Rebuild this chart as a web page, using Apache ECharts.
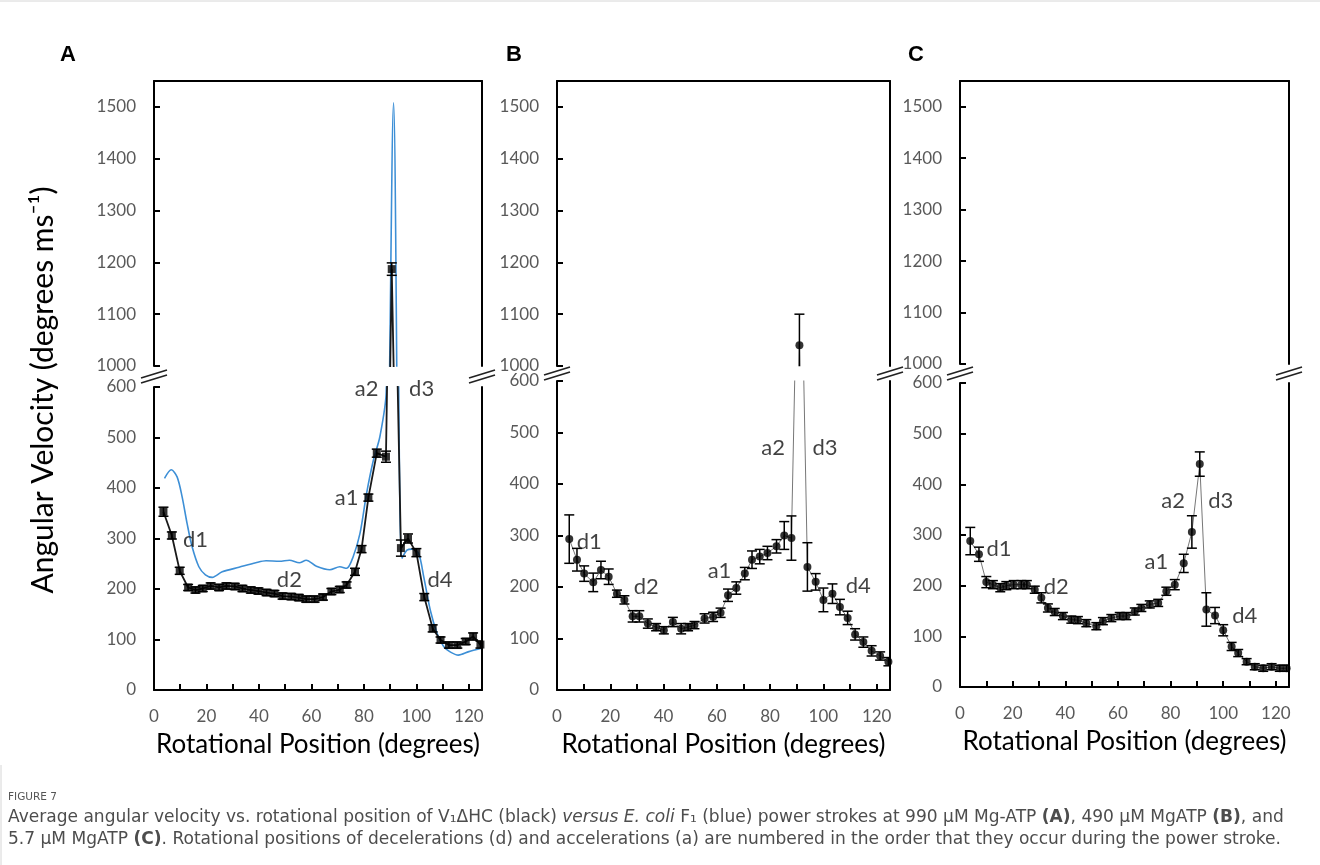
<!DOCTYPE html>
<html>
<head>
<meta charset="utf-8">
<title>Figure 7</title>
<script src="https://cdn.jsdelivr.net/npm/echarts@6/dist/echarts.min.js"></script>
<style>
  html, body { margin: 0; padding: 0; background: #fff; }
  #main { width: 1320px; height: 865px; }
</style>
</head>
<body>
<div id="main"></div>
<script>
// ---- data ----
// panel A : V1dHC, 990 uM Mg-ATP (black) + E. coli F1 (blue)
var posA = [3.6, 6.8, 9.8, 13.0, 15.8, 18.6, 21.6, 24.8, 27.6, 30.8, 33.7, 36.9, 39.8, 42.9, 45.9, 49.0, 52.3, 55.2, 58.0, 61.2,
            64.4, 67.6, 70.8, 73.4, 76.6, 79.1, 81.7, 84.9, 88.4, 90.6, 94.1, 96.8, 100.0, 103.0, 106.2, 109.2, 112.4, 115.6, 118.8, 121.6, 124.4];
var velA = [353, 306, 236, 203, 198, 201, 206, 203, 206, 205, 201, 198, 196, 193, 191, 186, 185, 183, 180, 180,
            184, 195, 199, 208, 234, 279, 381, 469, 462, 1187, 281, 300, 272, 184, 122, 99, 89, 89, 96, 106, 90];
var errA = [9, 7, 7, 6, 6, 6, 6, 6, 6, 6, 6, 6, 6, 6, 6, 6, 6, 6, 6, 6,
            6, 6, 6, 6, 7, 7, 7, 8, 11, 12, 16, 9, 8, 7, 7, 6, 6, 6, 6, 7, 7];
var bluePosA = [4.0, 6.6, 8.8, 10.7, 12.6, 14.5, 17.1, 19.6, 22.2, 26.0, 32.4, 38.8, 42.7, 47.8, 51.6, 55.4, 58.0, 61.9, 67.0, 70.8,
                73.4, 75.9, 78.5, 81.0, 83.6, 86.1, 88.5, 91.3, 93.2, 94.5, 96.4, 98.3, 100.8, 102.8, 105.3, 107.9, 110.4, 113.0, 116.0, 120.0, 124.5];
var blueVelA = [419, 436, 422, 383, 330, 284, 244, 228, 223, 234, 243, 252, 256, 255, 257, 252, 257, 245, 238, 244,
                241, 264, 310, 389, 455, 502, 590, 1508, 620, 261, 277, 279, 271, 224, 158, 112, 86, 75, 69, 76, 82];

// panel B : 490 uM MgATP
var posB = [4.6, 7.5, 10.2, 13.6, 16.5, 19.4, 22.5, 25.3, 28.4, 30.9, 34.1, 37.2, 40.1, 43.5, 46.6, 49.2, 51.6, 55.4, 58.6, 61.4,
            64.2, 67.3, 70.5, 73.2, 76.1, 79.0, 82.4, 85.3, 88.0, 91.0, 94.0, 97.1, 100.0, 103.4, 106.2, 109.1, 111.9, 115.0, 118.1, 121.3, 124.4];
var velB = [293, 253, 226, 209, 233, 220, 187, 175, 143, 143, 129, 122, 116, 132, 119, 122, 126, 139, 142, 150,
            184, 198, 226, 253, 259, 266, 279, 300, 295, 1040, 239, 210, 175, 187, 161, 140, 108, 93, 76, 66, 55];
var errB = [47, 22, 15, 18, 17, 15, 7, 8, 11, 11, 9, 7, 7, 9, 10, 7, 7, 9, 9, 9,
            12, 12, 12, 17, 14, 13, 13, 27, 43, 60, 47, 16, 23, 19, 15, 13, 11, 10, 10, 8, 8];

// panel C : 5.7 uM MgATP
var posC = [3.9, 7.2, 10.0, 12.5, 15.3, 17.6, 20.4, 23.3, 25.4, 28.4, 30.9, 33.4, 36.0, 39.1, 42.3, 44.8, 48.0, 51.8, 54.3, 57.5,
            60.7, 63.2, 66.4, 68.9, 72.1, 75.3, 78.4, 81.6, 85.0, 88.1, 91.1, 93.6, 96.9, 100.0, 103.2, 105.7, 108.9, 112.0, 115.2, 118.4, 121.5, 124.1];
var velC = [288, 262, 207, 202, 196, 200, 202, 202, 202, 192, 176, 156, 148, 140, 133, 132, 126, 120, 130, 136,
            140, 140, 149, 156, 163, 166, 189, 202, 244, 306, 440, 153, 141, 112, 80, 67, 50, 40, 37, 40, 37, 37];
var errC = [27, 14, 11, 8, 8, 8, 8, 8, 8, 7, 10, 8, 7, 7, 7, 7, 7, 7, 7, 7,
            7, 7, 7, 7, 7, 7, 8, 10, 18, 32, 24, 33, 16, 11, 8, 7, 6, 6, 6, 6, 6, 6];

// labels of decelerations / accelerations [position, velocity, text]
var annA = [[15.8, 297, 'd1'], [51.6, 218, 'd2'], [73.4, 380, 'a1'], [81.0, 596, 'a2'], [102.0, 596, 'd3'], [109.0, 218, 'd4']];
var annB = [[12.1, 287, 'd1'], [33.5, 200, 'd2'], [61.0, 231, 'a1'], [81.1, 471, 'a2'], [100.6, 471, 'd3'], [113.1, 203, 'd4']];
var annC = [[14.8, 273, 'd1'], [36.6, 197, 'd2'], [74.6, 247, 'a1'], [81.0, 368, 'a2'], [99.1, 368, 'd3'], [108.2, 141, 'd4']];

var xLabels = [0, 20, 40, 60, 80, 100, 120];
var xTicks = [0, 10, 20, 30, 40, 50, 60, 70, 80, 90, 100, 110, 120];
var lowTicks = [0, 100, 200, 300, 400, 500, 600];
var upTicks = [1000, 1100, 1200, 1300, 1400, 1500];

var panelLetters = ['A', 'B', 'C'];
var xTitle = 'Rotational Position (degrees)';
var yTitle = 'Angular Velocity (degrees ms\u207B\u00B9)';
var captionHead = 'FIGURE 7';
var caption1 = [['n', 'Average angular velocity vs. rotational position of V\u2081\u0394HC (black) '], ['i', 'versus E. coli'],
                ['n', ' F\u2081 (blue) power strokes at 990 \u00B5M Mg-ATP '], ['b', '(A)'], ['n', ', 490 \u00B5M MgATP '], ['b', '(B)'], ['n', ', and']];
var caption2 = [['n', '5.7 \u00B5M MgATP '], ['b', '(C)'],
                ['n', '. Rotational positions of decelerations (d) and accelerations (a) are numbered in the order that they occur during the power stroke.']];

// ---- layout ----
var panels = [
  { pos: posA, vel: velA, err: errA, ann: annA, blue: [bluePosA, blueVelA], sym: 'rect', lineColor: '#1a1a1a', lineWidth: 1.8,
    left: 154, width: 328, upTop: 81, upBottom: 366, lowTop: 387, lowBottom: 690, letterX: 68 },
  { pos: posB, vel: velB, err: errB, ann: annB, blue: null, sym: 'circle', lineColor: '#777', lineWidth: 1,
    left: 557, width: 333, upTop: 81, upBottom: 366, lowTop: 381, lowBottom: 690, letterX: 514 },
  { pos: posC, vel: velC, err: errC, ann: annC, blue: null, sym: 'circle', lineColor: '#777', lineWidth: 1,
    left: 960, width: 329, upTop: 81, upBottom: 364, lowTop: 383, lowBottom: 687, letterX: 916 }
];

var FONT = 'Lato';
var CAP_FONT = 'DejaVu Sans';
var chart = echarts.init(document.getElementById('main'), null, { renderer: 'canvas' });

function zip(a, b, c) {
  return a.map(function (v, i) { return c ? [v, b[i], c[i]] : [v, b[i]]; });
}

// font size that makes a caption line span the wanted width
function fitSize(parts, family, target) {
  var ctx = document.createElement('canvas').getContext('2d');
  ctx.font = '20px "' + family + '"';
  var w = ctx.measureText(parts.map(function (p) { return p[1]; }).join('')).width;
  return 20 * target / w;
}

function richText(parts) {
  return parts.map(function (p) { return '{' + p[0] + '|' + p[1] + '}'; }).join('');
}

function errRender(params, api) {
  var x = api.value(0), y = api.value(1), e = api.value(2);
  var t = api.coord([x, y + e]), b = api.coord([x, y - e]);
  var w = 5, st = { stroke: '#000', lineWidth: 1.5 };
  return {
    type: 'group',
    children: [
      { type: 'line', shape: { x1: t[0], y1: t[1], x2: b[0], y2: b[1] }, style: st },
      { type: 'line', shape: { x1: t[0] - w, y1: t[1], x2: t[0] + w, y2: t[1] }, style: st },
      { type: 'line', shape: { x1: b[0] - w, y1: b[1], x2: b[0] + w, y2: b[1] }, style: st }
    ]
  };
}

var grids = [], xAxes = [], yAxes = [], series = [], graphics = [];
var axLine = { show: true, lineStyle: { color: '#000', width: 2 } };
var tickLbl = { color: '#595959', fontSize: 17, fontFamily: FONT, margin: 18, formatter: function (v) { return String(v); } };

panels.forEach(function (p, pi) {
  [0, 1].forEach(function (u) {
    var g = pi * 2 + u;
    var lower = u === 1;
    grids.push({
      left: p.left, width: p.width,
      top: lower ? p.lowTop : p.upTop,
      height: lower ? p.lowBottom - p.lowTop : p.upBottom - p.upTop,
      outerBoundsMode: 'none'
    });
    xAxes.push({
      type: 'value', gridIndex: g, min: 0, max: 125, interval: 10,
      position: lower ? 'bottom' : 'top',
      axisLine: axLine,
      axisTick: lower ? { show: true, inside: true, length: 6, customValues: xTicks, lineStyle: { color: '#000', width: 2 } } : { show: false },
      axisLabel: lower ? Object.assign({ customValues: xLabels }, tickLbl) : { show: false },
      splitLine: { show: false },
      name: lower ? xTitle : '',
      nameLocation: 'middle', nameGap: 42,
      nameTextStyle: { fontSize: 26, color: '#000', fontFamily: FONT }
    });
    var yMin = lower ? 0 : 1000, yMax = lower ? 600 : 1550;
    yAxes.push({
      type: 'value', gridIndex: g, min: yMin, max: yMax, interval: 100, position: 'left',
      axisLine: axLine,
      axisTick: { show: true, inside: true, length: 6, customValues: lower ? lowTicks : upTicks, lineStyle: { color: '#000', width: 2 } },
      axisLabel: Object.assign({ customValues: lower ? lowTicks : upTicks }, tickLbl),
      splitLine: { show: false }
    });
    yAxes.push({
      type: 'value', gridIndex: g, min: yMin, max: yMax, interval: 100, position: 'right',
      axisLine: axLine, axisTick: { show: false }, axisLabel: { show: false }, splitLine: { show: false }
    });
    var yi = g * 2;
    if (p.blue) {
      series.push({
        type: 'line', xAxisIndex: g, yAxisIndex: yi, data: zip(p.blue[0], p.blue[1]),
        symbol: 'none', smooth: 0.3, clip: true, z: 2,
        lineStyle: { color: '#3d8fd6', width: 1.6 }
      });
    }
    series.push({
      type: 'line', xAxisIndex: g, yAxisIndex: yi, data: zip(p.pos, p.vel),
      symbol: 'none', clip: true, z: 3,
      lineStyle: { color: p.lineColor, width: p.lineWidth }
    });
    series.push({
      type: 'custom', xAxisIndex: g, yAxisIndex: yi, data: zip(p.pos, p.vel, p.err),
      renderItem: errRender, encode: { x: 0, y: 1 }, clip: true, z: 4
    });
    series.push({
      type: 'scatter', xAxisIndex: g, yAxisIndex: yi, data: zip(p.pos, p.vel),
      symbol: p.sym, symbolSize: 8, clip: true, z: 5,
      itemStyle: { color: '#000' }
    });
    if (lower) {
      series.push({
        type: 'scatter', xAxisIndex: g, yAxisIndex: yi, data: p.ann,
        symbol: 'circle', symbolSize: 1, clip: false, z: 6,
        itemStyle: { color: 'rgba(0,0,0,0)' },
        label: {
          show: true, position: 'inside', fontSize: 22, color: '#111', fontFamily: FONT,
          formatter: function (d) { return d.value[2]; }
        }
      });
    }
  });

  // break marks on both vertical borders
  var cy = (p.upBottom + p.lowTop) / 2;
  [p.left, p.left + p.width].forEach(function (bx) {
    [-2.5, 2.5].forEach(function (dy) {
      graphics.push({
        type: 'line', silent: true,
        shape: { x1: bx - 13, y1: cy + dy + 4, x2: bx + 13, y2: cy + dy - 4 },
        style: { stroke: '#222', lineWidth: 1.6 }
      });
    });
  });
  graphics.push({
    type: 'text', left: p.letterX - 8, top: 44, silent: true,
    style: { text: panelLetters[pi], fontSize: 22, fontWeight: 'bold', fontFamily: 'Liberation Sans', fill: '#000' }
  });
});

// y-axis title
graphics.push({
  type: 'text', silent: true, x: 43, y: 390, rotation: Math.PI / 2,
  style: { text: yTitle, fontSize: 30, fontFamily: FONT, fill: '#000', align: 'center', verticalAlign: 'middle' }
});

// frame lines and caption
graphics.push({ type: 'line', silent: true, shape: { x1: 0, y1: 1, x2: 1320, y2: 1 }, style: { stroke: '#d6d6d6', lineWidth: 1 } });
graphics.push({ type: 'line', silent: true, shape: { x1: 1, y1: 765, x2: 1, y2: 865 }, style: { stroke: '#d6d6d6', lineWidth: 1 } });

var capSize = Math.min(fitSize(caption1, CAP_FONT, 1270), 17.5);
var capRich = {
  n: { fontSize: capSize, fontFamily: CAP_FONT, fill: '#4d4d4d' },
  i: { fontSize: capSize, fontFamily: CAP_FONT, fontStyle: 'italic', fill: '#4d4d4d' },
  b: { fontSize: capSize, fontFamily: CAP_FONT, fontWeight: 'bold', fill: '#4d4d4d' }
};
graphics.push({
  type: 'text', silent: true, x: 8, y: 797,
  style: { text: captionHead, fontSize: 10.5, fontFamily: CAP_FONT, fill: '#555', verticalAlign: 'middle' }
});
graphics.push({
  type: 'text', silent: true, x: 8, y: 818,
  style: { text: richText(caption1), rich: capRich, verticalAlign: 'middle' }
});
graphics.push({
  type: 'text', silent: true, x: 8, y: 840,
  style: { text: richText(caption2), rich: capRich, verticalAlign: 'middle' }
});

chart.setOption({
  animation: false,
  backgroundColor: '#fff',
  grid: grids,
  xAxis: xAxes,
  yAxis: yAxes,
  series: series,
  graphic: { elements: graphics }
});
</script>
</body>
</html>
